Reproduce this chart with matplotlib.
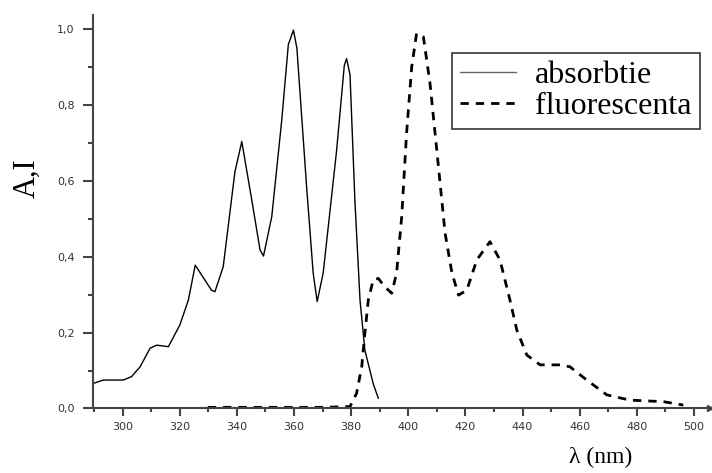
import matplotlib
matplotlib.use("Agg")
from matplotlib import pyplot as plt
from matplotlib.ticker import MultipleLocator, FuncFormatter

# absorption spectrum (solid)
abs_wl = [289.7, 293.2, 300.2, 303.1, 306.1, 309.6, 311.9, 316.0, 320.0, 323.0,
          325.4, 331.1, 332.3, 335.2, 339.3, 341.7, 345.2, 348.1, 349.3, 352.2,
          355.7, 358.0, 359.8, 361.0, 364.4, 366.7, 368.1, 370.2, 374.9, 377.6,
          378.4, 379.6, 381.3, 383.1, 384.8, 387.7, 389.5]
abs_val = [0.066, 0.075, 0.075, 0.084, 0.110, 0.159, 0.167, 0.163, 0.220, 0.286,
           0.378, 0.312, 0.308, 0.374, 0.624, 0.704, 0.550, 0.418, 0.402, 0.506,
           0.761, 0.960, 0.998, 0.950, 0.585, 0.357, 0.282, 0.357, 0.680, 0.905,
           0.923, 0.880, 0.550, 0.286, 0.154, 0.066, 0.027]

# fluorescence spectrum (dashed)
fl_wl = [329.8, 350.0, 370.0, 379.6, 381.9, 383.7, 384.8, 386.0, 387.7, 389.5,
         391.8, 394.2, 395.9, 397.7, 399.4, 401.2, 402.9, 405.3, 407.6, 410.0,
         412.9, 415.3, 417.6, 420.5, 424.0, 428.6, 432.1, 435.6, 438.0, 441.5,
         446.2, 453.1, 456.6, 462.5, 469.5, 477.6, 489.3, 496.3]
fl_val = [0.003, 0.003, 0.003, 0.005, 0.040, 0.110, 0.198, 0.286, 0.339, 0.343,
          0.321, 0.304, 0.357, 0.506, 0.726, 0.901, 0.989, 0.980, 0.858, 0.680,
          0.462, 0.357, 0.299, 0.312, 0.392, 0.440, 0.392, 0.286, 0.207, 0.141,
          0.115, 0.115, 0.110, 0.075, 0.036, 0.022, 0.018, 0.009]

labels = ["absorbtie", "fluorescenta"]

serif = "Liberation Serif"
axis_col = "#444444"

fig = plt.figure(figsize=(7.12, 4.73), dpi=100)
ax = fig.add_axes([0.131, 0.1364, 0.866, 0.832])

ax.plot(abs_wl, abs_val, color="black", lw=1.0, label=labels[0])
ax.plot(fl_wl, fl_val, color="black", lw=2.0, ls=(0, (3, 2.5)), label=labels[1])

ax.set_xlim(289.7, 505.6)
ax.set_ylim(0, 1.038)

for s in ["top", "right"]:
    ax.spines[s].set_visible(False)
for s in ["left", "bottom"]:
    ax.spines[s].set_color(axis_col)
    ax.spines[s].set_linewidth(1.5)

# arrow heads at the axis ends
ax.plot(1, 0, ">", color=axis_col, ms=5, transform=ax.get_yaxis_transform(), clip_on=False)
ax.plot(0, 1, "^", color=axis_col, ms=5, transform=ax.get_xaxis_transform(), clip_on=False)

ax.xaxis.set_major_locator(MultipleLocator(20))
ax.xaxis.set_minor_locator(MultipleLocator(10))
ax.yaxis.set_major_locator(MultipleLocator(0.2))
ax.yaxis.set_minor_locator(MultipleLocator(0.1))
ax.yaxis.set_major_formatter(FuncFormatter(lambda v, p: f"{v:.1f}".replace(".", ",")))
ax.xaxis.set_major_formatter(FuncFormatter(lambda v, p: f"{v:.0f}"))

ax.tick_params(axis="x", which="major", length=6, width=1.5, color=axis_col,
               labelsize=8, labelcolor="#333333", pad=4)
ax.tick_params(axis="x", which="minor", length=3, width=1.5, color=axis_col)
ax.tick_params(axis="y", which="major", length=7.5, width=1.5, color=axis_col,
               labelsize=8, labelcolor="#333333", pad=6)
ax.tick_params(axis="y", which="minor", length=3.5, width=1.5, color=axis_col)

fig.text(27 / 712, 1 - 178 / 473, "A,I", rotation=90, family=serif, fontsize=22,
         ha="center", va="center")
fig.text(601 / 712, 1 - 457 / 473, "λ (nm)", family=serif, fontsize=17,
         ha="center", va="center")

leg = ax.legend(loc="upper left", bbox_to_anchor=(452 / 712, 1 - 53 / 473),
                bbox_transform=fig.transFigure, prop={"family": serif, "size": 23},
                frameon=True, fancybox=False, handlelength=1.75, handletextpad=0.6,
                borderpad=0.25, labelspacing=0.05, borderaxespad=0)
leg.get_frame().set_edgecolor("black")
leg.get_frame().set_linewidth(1.2)
leg.get_lines()[0].set_color("#666666")

fig.savefig("out.png", dpi=100)
